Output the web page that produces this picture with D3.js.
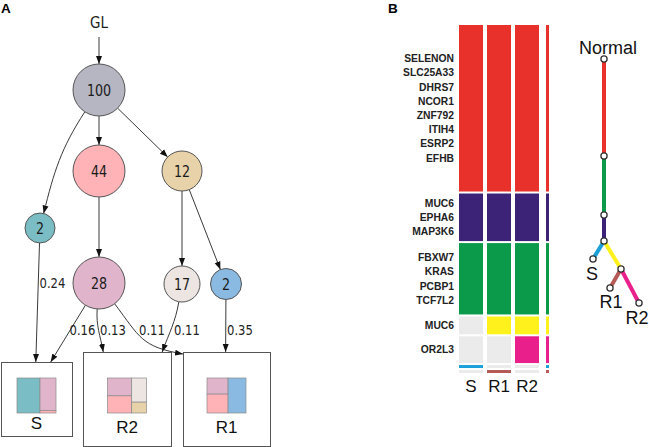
<!DOCTYPE html>
<html><head><meta charset="utf-8">
<script src="https://cdn.jsdelivr.net/npm/d3@7"></script>
<style>
html,body{margin:0;padding:0;background:#fff;}
svg{display:block;}
.narrow{font-family:"Liberation Sans Narrow","Arial Narrow","Liberation Sans",Arial,sans-serif;}
.dv{font-family:"DejaVu Sans",sans-serif;}
</style></head><body>
<script>
// ---------------- DATA ----------------
// Panel A: clone tree
const cloneIds = ["n100","n44","n12","n2a","n28","n17","n2b"];
const cloneValues = [100,44,12,2,28,17,2];
const cloneEdgeFrom = ["GL","n100","n100","n100","n12","n12","n44"];
const cloneEdgeTo   = ["n100","n2a","n44","n12","n17","n2b","n28"];
// edges from clones into samples, with weights
const sampleNames = ["S","R2","R1"];
const sampleEdgeFrom = ["n2a","n28","n28","n28","n17","n2b"];
const sampleEdgeTo   = ["S","S","R2","R1","R2","R1"];
const sampleEdgeWeight = [0.24,0.16,0.13,0.11,0.11,0.35];

// Panel B: mutation clusters
const heatSamples = ["S","R1","R2"];
const clusterGenes = [
  ["SELENON","SLC25A33","DHRS7","NCOR1","ZNF792","ITIH4","ESRP2","EFHB"],
  ["MUC6","EPHA6","MAP3K6"],
  ["FBXW7","KRAS","PCBP1","TCF7L2"],
  ["MUC6"],
  ["OR2L3"],
  [],
  []
];
const clusterCounts = [56,16,24,6,9,1,1];
const clusterPresence = [[1,1,1],[1,1,1],[1,1,1],[0,1,1],[0,0,1],[1,0,0],[0,1,0]];
// phylogenetic tree edges (cluster index colours the branch)
const treeFrom = ["Normal","t1","t2","t3","t3","t4","t4"];
const treeTo   = ["t1","t2","t3","S","t4","R1","R2"];
const treeCluster = [0,2,1,5,3,6,4];

// ---------------- STYLE / LAYOUT ----------------
const cloneColor = {n100:"#b6b6c2",n44:"#ffb3b7",n12:"#e8d2a9",n2a:"#7bbdc4",n28:"#e0b5cb",n17:"#ede5e1",n2b:"#8abae1"};
const cloneR = {n100:26,n44:26,n12:20,n2a:15,n28:26,n17:18,n2b:15.5};
const clonePos = {GL:[99,30],n100:[99,90],n44:[99,171],n12:[182,171],n2a:[40,228],n28:[99,283],n17:[182,284],n2b:[226,284]};
const boxLayout = {
  S:{x:1,y:362,w:71,h:74,labelY:429},
  R2:{x:83,y:352,w:88,h:94,labelY:433},
  R1:{x:183,y:352,w:87,h:94,labelY:433}
};
const innerY = 378, innerW = 39, innerH = 35;
const boxCells = {
  S:[["n2a",0,.59,0,1],["n28",.59,1,0,.93],["n44",.59,1,.93,1]],
  R2:[["n28",0,.62,0,.51],["n44",0,.62,.51,1],["n17",.62,1,0,.69],["n12",.62,1,.69,1]],
  R1:[["n28",0,.54,0,.46],["n44",0,.54,.46,1],["n2b",.54,1,0,1]]
};
// edge shape: depart/arrive angles, port fraction on box, port dy
const edgeShape = {
  "GL>n100":{start:[99,37]},
  "n100>n2a":{a0:123,a1:104},
  "n2a>S":{port:.49},
  "n28>S":{port:.70},
  "n28>R2":{a0:94,a1:80,port:.23},
  "n28>R1":{a0:53,a1:10,port:0,dy:2,k:.5},
  "n17>R2":{a0:100,a1:110,port:.9},
  "n2b>R1":{port:.49}
};
const edgeLabelPos = {"n2a>S":[39.5,288],"n28>S":[69.5,335],"n28>R2":[100,335],"n28>R1":[139,335],"n17>R2":[174,335],"n2b>R1":[227,335]};

const clusterColor = ["#e8312a","#3c2378","#0b9a4a","#fff21c","#e91f8b","#1ca0d9","#b55a55"];
const absentColor = "#ebebeb";
const treePos = {Normal:[604,59],t1:[604,156],t2:[604,215],t3:[604,241],S:[593,259],t4:[621,269],R1:[610,288],R2:[639,303]};
const treeLabelPos = {Normal:[608,54],S:[592,280],R1:[611,308],R2:[637,324]};

// ---------------- DRAW ----------------
const W=649,H=447;
const svg = d3.select("body").append("svg").attr("width",W).attr("height",H);

svg.append("text").attr("x",1).attr("y",12.5).attr("font-family","Liberation Sans,Arial,sans-serif")
  .attr("font-weight","bold").attr("font-size",13.5).text("A");
svg.append("text").attr("x",388).attr("y",13).attr("font-family","Liberation Sans,Arial,sans-serif")
  .attr("font-weight","bold").attr("font-size",13.5).text("B");

// ---- Panel A ----
const A = svg.append("g");
const defs = svg.append("defs");
defs.append("marker").attr("id","arr").attr("markerUnits","userSpaceOnUse")
  .attr("markerWidth",9).attr("markerHeight",7).attr("refX",8).attr("refY",3.5)
  .attr("orient","auto").append("path").attr("d","M0,0.5 L8,3.5 L0,6.5 Z").attr("fill","#111");

const rad = d => d*Math.PI/180;
function targetPoint(to, shape){
  if (boxLayout[to]) {
    const b = boxLayout[to];
    return {x: b.x + (shape.port ?? .5)*b.w, y: b.y + (shape.dy ?? 0), circle:false};
  }
  const p = clonePos[to];
  return {x:p[0], y:p[1], r:cloneR[to], circle:true};
}
function edgePath(from,to){
  const shape = edgeShape[from+">"+to] || {};
  const t = targetPoint(to, shape);
  const s = clonePos[from];
  let sx, sy, a0, a1;
  if (shape.start){ sx = shape.start[0]; sy = shape.start[1]; }
  const ang = Math.atan2(t.y - s[1], t.x - s[0]);
  a0 = shape.a0 !== undefined ? rad(shape.a0) : ang;
  a1 = shape.a1 !== undefined ? rad(shape.a1) : ang;
  if (!shape.start){ sx = s[0] + cloneR[from]*Math.cos(a0); sy = s[1] + cloneR[from]*Math.sin(a0); }
  let ex = t.x, ey = t.y;
  if (t.circle){ ex = t.x - t.r*Math.cos(a1); ey = t.y - t.r*Math.sin(a1); }
  if (shape.a0 === undefined && shape.a1 === undefined){
    return `M${sx},${sy}L${ex},${ey}`;
  }
  const d = Math.hypot(ex-sx, ey-sy), L = (shape.k ?? .4)*d;
  const p = d3.path();
  p.moveTo(sx,sy);
  p.bezierCurveTo(sx+L*Math.cos(a0), sy+L*Math.sin(a0), ex-L*Math.cos(a1), ey-L*Math.sin(a1), ex, ey);
  return p.toString();
}

const allEdges = cloneEdgeFrom.map((f,i)=>({from:f,to:cloneEdgeTo[i]}))
  .concat(sampleEdgeFrom.map((f,i)=>({from:f,to:sampleEdgeTo[i],w:sampleEdgeWeight[i]})));

A.selectAll("path.edge").data(allEdges).join("path").attr("class","edge")
  .attr("d",e=>edgePath(e.from,e.to)).attr("fill","none").attr("stroke","#3a3a3a")
  .attr("stroke-width",1).attr("marker-end","url(#arr)");

A.selectAll("text.elab").data(allEdges.filter(e=>e.w!==undefined)).join("text").attr("class","elab dv")
  .attr("transform",e=>{const p=edgeLabelPos[e.from+">"+e.to];return `translate(${p[0]},${p[1]}) scale(0.86,1)`;})
  .attr("font-size",13.5).attr("fill","#222").text(e=>d3.format(".2f")(e.w));

// GL label
A.append("text").attr("class","dv").attr("transform",`translate(${clonePos.GL[0]},${clonePos.GL[1]-2}) scale(0.9,1)`)
  .attr("text-anchor","middle").attr("font-size",15).attr("fill","#222").text("GL");

const clones = cloneIds.map((id,i)=>({id,v:cloneValues[i]}));
const cg = A.selectAll("g.clone").data(clones).join("g").attr("class","clone")
  .attr("transform",d=>`translate(${clonePos[d.id][0]},${clonePos[d.id][1]})`);
cg.append("circle").attr("r",d=>cloneR[d.id]).attr("fill",d=>cloneColor[d.id]).attr("stroke","#555").attr("stroke-width",1);
cg.append("text").attr("class","dv").attr("transform","scale(0.82,1)").attr("text-anchor","middle")
  .attr("dy","0.36em").attr("font-size",15.5).attr("fill","#1a1a1a").text(d=>d.v);

// sample boxes
const bg = A.selectAll("g.box").data(sampleNames).join("g").attr("class","box");
bg.append("rect").attr("x",d=>boxLayout[d].x+.5).attr("y",d=>boxLayout[d].y+.5)
  .attr("width",d=>boxLayout[d].w).attr("height",d=>boxLayout[d].h)
  .attr("fill","none").attr("stroke","#555").attr("stroke-width",1);
bg.each(function(name){
  const b = boxLayout[name];
  const x0 = b.x + b.w/2 - innerW/2;
  const xs = d3.scaleLinear().domain([0,1]).range([x0, x0+innerW]);
  const ys = d3.scaleLinear().domain([0,1]).range([innerY, innerY+innerH]);
  d3.select(this).selectAll("rect.cell").data(boxCells[name]).join("rect").attr("class","cell")
    .attr("x",c=>xs(c[1])).attr("y",c=>ys(c[3])).attr("width",c=>xs(c[2])-xs(c[1]))
    .attr("height",c=>ys(c[4])-ys(c[3])).attr("fill",c=>cloneColor[c[0]])
    .attr("stroke","#8a8a8a").attr("stroke-width",.7);
  d3.select(this).append("text").attr("class","narrow").attr("x",b.x+b.w/2).attr("y",b.labelY)
    .attr("text-anchor","middle").attr("font-size",17).attr("fill","#111").text(name);
});

// ---- Panel B ----
const B = svg.append("g");
const gap = 2, hTop = 25, hBottom = 373;
const total = d3.sum(clusterCounts);
const yUnit = d3.scaleLinear().domain([0,total]).range([0, hBottom-hTop-gap*(clusterCounts.length-1)]);
let acc = hTop;
const clusters = clusterCounts.map((c,i)=>{
  const y0 = acc, h = yUnit(c); acc += h + gap;
  return {i, y0, h, genes:clusterGenes[i], pres:clusterPresence[i]};
});
const xb = d3.scaleBand().domain(heatSamples).range([459,539]).paddingInner(1/7).paddingOuter(0);

clusters.forEach(cl=>{
  heatSamples.forEach((s,j)=>{
    B.append("rect").attr("x",xb(s)).attr("y",cl.y0).attr("width",xb.bandwidth()).attr("height",cl.h)
      .attr("fill",cl.pres[j]?clusterColor[cl.i]:absentColor);
  });
  // summary thin column
  B.append("rect").attr("x",546).attr("y",cl.y0).attr("width",3).attr("height",cl.h).attr("fill",clusterColor[cl.i]);
  const c = cl.y0 + cl.h/2, n = cl.genes.length;
  cl.genes.forEach((g,k)=>{
    B.append("text").attr("class","narrow").attr("x",454).attr("y",c+(k-(n-1)/2)*14.2)
      .attr("dy","0.36em").attr("text-anchor","end").attr("font-weight","bold")
      .attr("font-size",10.3).attr("fill","#222").text(g);
  });
});
B.selectAll("text.col").data(heatSamples).join("text").attr("class","col narrow")
  .attr("x",d=>xb(d)+xb.bandwidth()/2).attr("y",392).attr("text-anchor","middle")
  .attr("font-size",17).attr("fill","#111").text(d=>d);

// tree
const tEdges = treeFrom.map((f,i)=>({f,t:treeTo[i],c:treeCluster[i]}));
B.selectAll("line.tree").data(tEdges).join("line").attr("class","tree")
  .attr("x1",d=>treePos[d.f][0]).attr("y1",d=>treePos[d.f][1])
  .attr("x2",d=>treePos[d.t][0]).attr("y2",d=>treePos[d.t][1])
  .attr("stroke",d=>clusterColor[d.c]).attr("stroke-width",4);
B.selectAll("circle.tn").data(Object.keys(treePos)).join("circle").attr("class","tn")
  .attr("cx",d=>treePos[d][0]).attr("cy",d=>treePos[d][1]).attr("r",3.1)
  .attr("fill","#fff").attr("stroke","#333").attr("stroke-width",1.3);
B.selectAll("text.tl").data(Object.keys(treeLabelPos)).join("text").attr("class","tl narrow")
  .attr("x",d=>treeLabelPos[d][0]).attr("y",d=>treeLabelPos[d][1]).attr("text-anchor","middle")
  .attr("font-size",18).attr("fill","#111").text(d=>d);
</script>
</body></html>
